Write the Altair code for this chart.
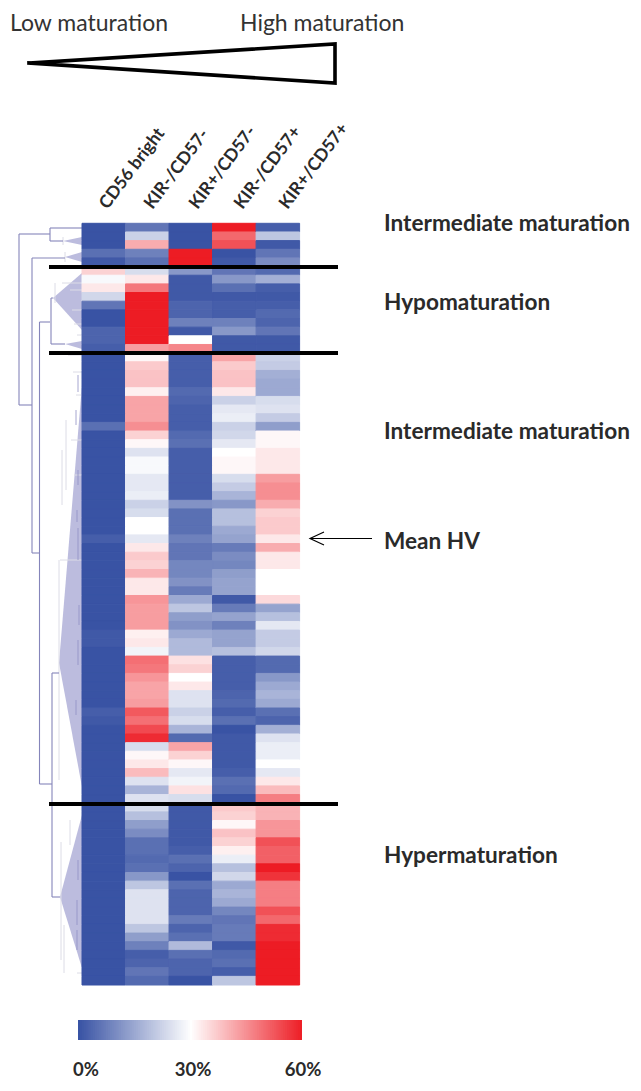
import altair as alt
import pandas as pd
import numpy as np

columns = ["CD56 bright", "KIR-/CD57-", "KIR+/CD57-", "KIR-/CD57+", "KIR+/CD57+"]

cd56 = [0,0,0,5,1,36,29,33,23,6,0,0,3,3,2,0,0,0,0,0,0,0,0,5,0,0,0,0,0,0,0,0,0,0,0,0,2,0,0,0,0,0,0,0,
        0,0,0,1,1,0,0,0,0,0,0,0,2,1,0,0,0,0,0,0,0,0,0,0,0,0,0,0,0,0,0,0,0,0,0,0,0,0,0,0,0,0,0,0]
kir_neg_57_neg = [6,22,41,8,5,24,33,48,60,60,60,60,60,60,43,31,37,38,38,32,42,42,42,45,36,31,25,29,29,26,26,27,22,24,30,30,26,33,37,36,40,33,33,44,
        43,43,43,32,33,28,49,48,44,42,42,43,52,49,54,58,24,31,33,39,25,17,25,24,19,13,10,5,5,4,5,12,20,25,25,25,25,20,13,8,2,3,6,4]
kir_pos_57_neg = [0,0,0,60,60,12,1,1,1,3,3,8,1,30,46,2,2,2,2,4,3,2,2,2,4,5,2,2,2,2,2,2,11,5,5,5,8,6,6,9,9,11,7,15,
        20,13,11,15,18,18,34,36,30,33,25,25,22,24,17,4,42,36,31,26,28,34,24,1,1,1,1,1,2,5,3,0,5,3,3,3,7,3,5,18,5,3,3,0]
kir_neg_57_pos = [60,50,53,0,1,6,12,5,1,2,2,8,12,1,1,42,37,38,38,33,22,26,27,22,23,26,30,31,31,24,21,17,12,19,19,15,14,7,10,9,13,14,14,1,
        7,14,8,14,14,19,2,2,2,2,3,4,2,5,0,1,1,1,1,2,5,4,0,37,36,31,38,36,32,27,19,23,15,17,15,9,6,7,7,1,4,5,2,20]
kir_pos_57_pos = [2,20,1,6,10,4,16,2,1,2,4,3,6,1,1,22,21,16,15,15,24,25,21,13,31,31,33,33,33,43,45,45,41,36,37,37,33,41,33,33,30,30,30,35,
        14,19,26,21,21,23,4,4,12,15,17,15,5,3,16,25,27,27,30,26,33,39,47,40,40,44,44,53,51,51,60,57,47,47,47,53,50,58,58,60,60,60,60,60]
series = [cd56, kir_neg_57_neg, kir_pos_57_neg, kir_neg_57_pos, kir_pos_57_pos]

scale_stops = [0, 30, 60]
scale_colors = ["#3953a4", "#ffffff", "#ed1c24"]
legend_steps = list(np.arange(0, 60, 0.5))
legend_labels = ["0%", "30%", "60%"]
legend_label_x = [86, 193, 303]
legend_label_y = [1070, 1070, 1070]

separators_y = [267, 353, 804]
wedge_x = [29, 335, 335, 29]
wedge_y = [63, 44, 83, 63]

note_text = ["Intermediate maturation", "Hypomaturation", "Intermediate maturation", "Mean HV", "Hypermaturation"]
note_y = [224, 303, 432, 542, 856]

top_text = ["Low maturation", "High maturation"]
top_x = [10, 240]
top_y = [24, 24]

arrow_x = [[372, 310], [324, 310, 324]]
arrow_y = [[538.5, 538.5], [532, 538.5, 545]]

tri_apex_x = [63, 65, 53, 65, 59, 60]
tri_apex_y = [241, 257, 298, 344, 663, 897]
tri_top = [237, 252, 273, 341, 385, 815]
tri_bottom = [245, 262, 330, 349, 787, 968]
tri_base = 82

dark_x1 = [19,19,19,50,50,50,32,32,32,39.5,39.5,39.5,51,51,51,52,52,52]
dark_x2 = [19,50,32,50,82,63,32,65,39.5,39.5,50,52,51,53,65,52,59,60]
dark_y1 = [234,234,405,228,228,241,258,258,553,322,322,784,298,298,344,673,673,897]
dark_y2 = [405,234,405,241,228,241,553,258,553,784,322,784,344,298,344,897,673,897]

pale_x1 = [63,65,62,66,59,61,70,64,55,62,70,72,74,77,68,73,76,71,74,60,77]
pale_x2 = [63,65,62,66,59,61,70,64,55,82,82,82,82,82,82,82,82,82,82,82,82]
pale_y1 = [237,252,450,420,560,842,820,925,283,283,290,310,324,335,355,372,395,440,475,560,973]
pale_y2 = [245,262,505,490,780,960,845,973,303,283,290,310,324,335,355,372,395,440,475,560,973]

ticks_x = [78, 76, 78, 77, 78, 79, 78, 76, 78, 77, 77]
ticks_y1 = [375, 410, 470, 510, 528, 605, 640, 700, 860, 900, 930]
ticks_y2 = [392, 425, 485, 522, 560, 625, 665, 715, 880, 925, 950]

px = alt.Scale(domain=[8, 641], range=[0, 633])
py = alt.Scale(domain=[8, 1091], range=[0, 1083])
X = lambda f: alt.X(f, scale=px, axis=None)
Y = lambda f: alt.Y(f, scale=py, axis=None)
col_scale = dict(domain=scale_stops, range=scale_colors, interpolate="rgb")
label_color = "#2a2a2a"
font = "Lato"

cells = pd.DataFrame(
    [{"col": c, "row": r, "v": s[r]} for c, s in zip(columns, series) for r in range(len(s))]
)
heat = alt.Chart(cells).mark_rect(strokeWidth=1).encode(
    x=alt.X("col:N", sort=columns, axis=None,
            scale=alt.Scale(domain=columns, range=[74, 291.6], paddingInner=0, paddingOuter=0, round=False)),
    y=alt.Y("row:O", axis=None,
            scale=alt.Scale(domain=list(range(len(cd56))), range=[215.3, 977], paddingInner=0, paddingOuter=0, round=False)),
    color=alt.Color("v:Q", scale=alt.Scale(**col_scale), legend=None),
    stroke=alt.Stroke("v:Q", scale=alt.Scale(**col_scale), legend=None),
)

col_labels = alt.Chart(pd.DataFrame({"col": columns})).mark_text(
    angle=307, align="left", baseline="middle", font=font, fontWeight="bold", fontSize=17.5, color=label_color
).encode(
    x=alt.X("col:N", sort=columns, axis=None,
            scale=alt.Scale(domain=columns, range=[73, 298], paddingInner=0, paddingOuter=0, round=False)),
    y=alt.value(199),
    text="col:N",
)

tri_rows = []
for i, (ax, ay, t, b) in enumerate(zip(tri_apex_x, tri_apex_y, tri_top, tri_bottom)):
    tri_rows.append({"id": i, "x": ax, "y": ay, "y2": ay})
    tri_rows.append({"id": i, "x": tri_base, "y": t, "y2": b})
triangles = alt.Chart(pd.DataFrame(tri_rows)).mark_area(color="#bcbcde", orient="vertical").encode(
    x=alt.X("x:Q", scale=px, axis=None, stack=None), y=alt.Y("y:Q", scale=py, axis=None, stack=None), y2="y2:Q", detail="id:N"
)

def segs(x1, x2, y1, y2):
    return pd.DataFrame({"x": x1, "x2": x2, "y": y1, "y2": y2})

pale = alt.Chart(segs(pale_x1, pale_x2, pale_y1, pale_y2)).mark_rule(color="#dcdce6", strokeWidth=1).encode(
    x=X("x:Q"), x2="x2:Q", y=Y("y:Q"), y2="y2:Q")
dark = alt.Chart(segs(dark_x1, dark_x2, dark_y1, dark_y2)).mark_rule(color="#8585ba", strokeWidth=1.1).encode(
    x=X("x:Q"), x2="x2:Q", y=Y("y:Q"), y2="y2:Q")
ticks = alt.Chart(segs(ticks_x, ticks_x, ticks_y1, ticks_y2)).mark_rule(color="#8f8fc4", strokeWidth=0.8).encode(
    x=X("x:Q"), x2="x2:Q", y=Y("y:Q"), y2="y2:Q")

separators = alt.Chart(pd.DataFrame({"y": separators_y, "x": [49] * 3, "x2": [338] * 3})).mark_rule(
    color="#000000", strokeWidth=4).encode(x=X("x:Q"), x2="x2:Q", y=Y("y:Q"))

wedge = alt.Chart(pd.DataFrame({"x": wedge_x, "y": wedge_y, "o": range(4)})).mark_line(
    color="#000000", strokeWidth=3.6, strokeJoin="miter", strokeCap="square").encode(
    x=X("x:Q"), y=Y("y:Q"), order="o:Q")

arrow_df = pd.DataFrame(
    [{"k": k, "o": i, "x": a, "y": b}
     for k, (xs, ys) in enumerate(zip(arrow_x, arrow_y)) for i, (a, b) in enumerate(zip(xs, ys))]
)
arrow = alt.Chart(arrow_df).mark_line(color="#000000", strokeWidth=1.2).encode(
    x=X("x:Q"), y=Y("y:Q"), detail="k:N", order="o:Q")

notes = alt.Chart(pd.DataFrame({"t": note_text, "y": note_y, "x": [384] * 5})).mark_text(
    align="left", baseline="middle", font=font, fontWeight="bold", fontSize=22.6, color=label_color
).encode(x=X("x:Q"), y=Y("y:Q"), text="t:N")

tops = alt.Chart(pd.DataFrame({"t": top_text, "x": top_x, "y": top_y})).mark_text(
    align="left", baseline="middle", font=font, fontSize=23, color="#333333"
).encode(x=X("x:Q"), y=Y("y:Q"), text="t:N")

bar_df = pd.DataFrame({"v": legend_steps, "v2": [s + 0.75 for s in legend_steps]})
bar_df["v2"] = bar_df["v2"].clip(upper=60)
colorbar = alt.Chart(bar_df).mark_rect().encode(
    x=alt.X("v:Q", axis=None, scale=alt.Scale(domain=[0, 60], range=[70, 294])),
    x2="v2:Q",
    y=alt.value(1012), y2=alt.value(1032),
    color=alt.Color("v:Q", scale=alt.Scale(**col_scale), legend=None),
)
bar_labels = alt.Chart(pd.DataFrame({"t": legend_labels, "x": legend_label_x, "y": legend_label_y})).mark_text(
    align="center", baseline="middle", font=font, fontWeight="bold", fontSize=18.5, color=label_color
).encode(x=X("x:Q"), y=Y("y:Q"), text="t:N")

chart = alt.layer(
    triangles, pale, ticks, dark, heat, separators, wedge, arrow, col_labels, notes, tops, colorbar, bar_labels
).resolve_scale(x="independent", y="independent", color="independent", stroke="independent").properties(
    width=625, height=1075, padding=0, autosize=alt.AutoSizeParams(type="none")
).configure_view(stroke=None)

chart.save("out.html", embed_options={"renderer": "svg", "actions": False})
